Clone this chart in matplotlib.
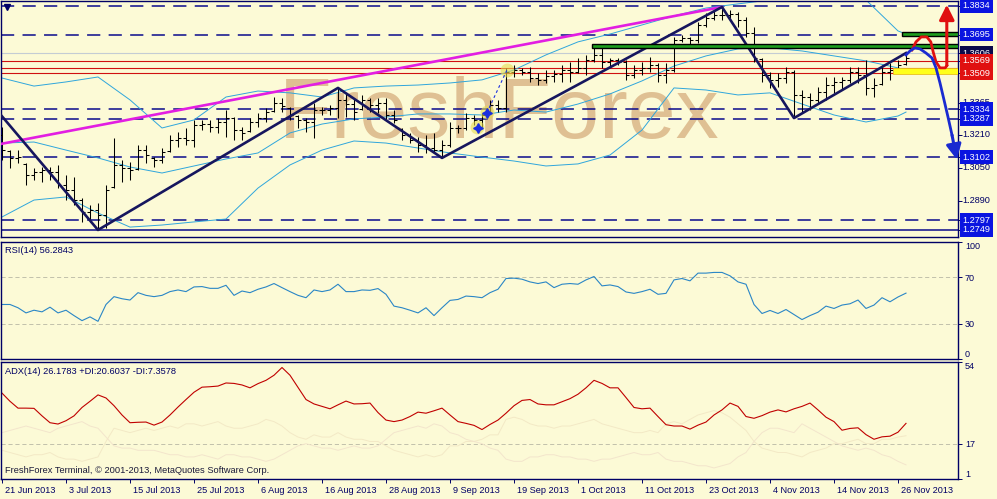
import matplotlib
matplotlib.use("Agg")
import matplotlib.pyplot as plt
import numpy as np
from matplotlib.patches import Rectangle
from matplotlib.transforms import ScaledTranslation, blended_transform_factory

plt.rcParams["font.family"] = ["Liberation Sans", "DejaVu Sans"]
plt.rcParams["lines.scale_dashes"] = False

BG = "#fcfad6"
NAVY = "#000066"

# daily EURUSD bars, 21 Jun 2013 .. 27 Nov 2013 (one per business day)
bar_open = [
    1.3209, 1.3130, 1.3098, 1.3068, 1.3015, 1.3030, 1.3040, 1.3030, 1.2967, 1.2943,
    1.2894, 1.2836, 1.2846, 1.2821, 1.2955, 1.3064, 1.3049, 1.3045, 1.3136, 1.3100,
    1.3088, 1.3130, 1.3185, 1.3194, 1.3185, 1.3258, 1.3262, 1.3248, 1.3272, 1.3291,
    1.3233, 1.3228, 1.3272, 1.3291, 1.3325, 1.3364, 1.3340, 1.3300, 1.3282, 1.3272,
    1.3330, 1.3330, 1.3340, 1.3379, 1.3359, 1.3335, 1.3379, 1.3354, 1.3364, 1.3306,
    1.3238, 1.3209, 1.3185, 1.3161, 1.3146, 1.3136, 1.3161, 1.3243, 1.3243, 1.3291,
    1.3282, 1.3320, 1.3354, 1.3340, 1.3514, 1.3524, 1.3514, 1.3485, 1.3475, 1.3495,
    1.3505, 1.3524, 1.3514, 1.3534, 1.3572, 1.3597, 1.3563, 1.3572, 1.3563, 1.3500,
    1.3524, 1.3534, 1.3548, 1.3500, 1.3524, 1.3669, 1.3679, 1.3669, 1.3742, 1.3776,
    1.3790, 1.3790, 1.3795, 1.3766, 1.3703, 1.3577, 1.3500, 1.3475, 1.3485, 1.3514,
    1.3403, 1.3393, 1.3379, 1.3417, 1.3451, 1.3466, 1.3475, 1.3514, 1.3500, 1.3437,
    1.3455, 1.3514, 1.3524, 1.3552,
]
bar_high = [
    1.3248, 1.3136, 1.3136, 1.3073, 1.3049, 1.3054, 1.3054, 1.3064, 1.3015, 1.3006,
    1.2904, 1.2870, 1.2880, 1.2967, 1.3194, 1.3088, 1.3078, 1.3161, 1.3161, 1.3102,
    1.3146, 1.3209, 1.3224, 1.3243, 1.3282, 1.3282, 1.3282, 1.3291, 1.3330, 1.3296,
    1.3248, 1.3291, 1.3316, 1.3340, 1.3393, 1.3388, 1.3345, 1.3306, 1.3291, 1.3364,
    1.3345, 1.3354, 1.3437, 1.3413, 1.3388, 1.3403, 1.3388, 1.3388, 1.3388, 1.3330,
    1.3243, 1.3219, 1.3199, 1.3209, 1.3219, 1.3185, 1.3272, 1.3258, 1.3316, 1.3306,
    1.3316, 1.3379, 1.3379, 1.3534, 1.3548, 1.3534, 1.3538, 1.3509, 1.3524, 1.3524,
    1.3548, 1.3563, 1.3582, 1.3597, 1.3635, 1.3631, 1.3582, 1.3582, 1.3572, 1.3548,
    1.3563, 1.3587, 1.3558, 1.3558, 1.3684, 1.3693, 1.3684, 1.3756, 1.3800, 1.3815,
    1.3829, 1.3815, 1.3805, 1.3781, 1.3732, 1.3582, 1.3514, 1.3509, 1.3538, 1.3524,
    1.3427, 1.3413, 1.3442, 1.3490, 1.3490, 1.3490, 1.3538, 1.3538, 1.3572, 1.3485,
    1.3548, 1.3558, 1.3572, 1.3606,
]
bar_low = [
    1.3088, 1.3049, 1.3073, 1.2967, 1.2991, 1.2981, 1.2991, 1.2952, 1.2894, 1.2870,
    1.2788, 1.2788, 1.2754, 1.2759, 1.2952, 1.2981, 1.2991, 1.3040, 1.3073, 1.3054,
    1.3073, 1.3127, 1.3151, 1.3161, 1.3151, 1.3233, 1.3224, 1.3219, 1.3199, 1.3185,
    1.3185, 1.3224, 1.3248, 1.3272, 1.3320, 1.3320, 1.3282, 1.3243, 1.3224, 1.3194,
    1.3306, 1.3306, 1.3291, 1.3296, 1.3282, 1.3330, 1.3320, 1.3316, 1.3282, 1.3267,
    1.3185, 1.3170, 1.3127, 1.3122, 1.3122, 1.3098, 1.3151, 1.3219, 1.3233, 1.3258,
    1.3248, 1.3316, 1.3320, 1.3320, 1.3490, 1.3500, 1.3466, 1.3451, 1.3461, 1.3466,
    1.3466, 1.3466, 1.3509, 1.3500, 1.3563, 1.3534, 1.3538, 1.3548, 1.3475, 1.3485,
    1.3500, 1.3514, 1.3466, 1.3461, 1.3514, 1.3660, 1.3645, 1.3655, 1.3732, 1.3766,
    1.3766, 1.3776, 1.3732, 1.3684, 1.3563, 1.3466, 1.3437, 1.3442, 1.3461, 1.3291,
    1.3320, 1.3330, 1.3364, 1.3379, 1.3413, 1.3427, 1.3461, 1.3461, 1.3403, 1.3393,
    1.3451, 1.3475, 1.3509, 1.3548,
]
bar_close = [
    1.3136, 1.3098, 1.3102, 1.3015, 1.3030, 1.3040, 1.3030, 1.2967, 1.2943, 1.2894,
    1.2836, 1.2846, 1.2821, 1.2943, 1.3064, 1.3049, 1.3040, 1.3136, 1.3112, 1.3088,
    1.3127, 1.3185, 1.3194, 1.3185, 1.3258, 1.3262, 1.3248, 1.3272, 1.3291, 1.3233,
    1.3219, 1.3272, 1.3291, 1.3320, 1.3364, 1.3349, 1.3306, 1.3282, 1.3272, 1.3330,
    1.3330, 1.3340, 1.3379, 1.3359, 1.3320, 1.3379, 1.3354, 1.3364, 1.3306, 1.3282,
    1.3209, 1.3185, 1.3161, 1.3146, 1.3136, 1.3161, 1.3243, 1.3243, 1.3291, 1.3282,
    1.3306, 1.3354, 1.3340, 1.3514, 1.3524, 1.3514, 1.3485, 1.3475, 1.3495, 1.3505,
    1.3524, 1.3514, 1.3534, 1.3572, 1.3597, 1.3563, 1.3572, 1.3563, 1.3500, 1.3524,
    1.3534, 1.3548, 1.3500, 1.3524, 1.3669, 1.3679, 1.3669, 1.3742, 1.3776, 1.3790,
    1.3790, 1.3795, 1.3766, 1.3703, 1.3582, 1.3500, 1.3475, 1.3485, 1.3514, 1.3403,
    1.3393, 1.3379, 1.3417, 1.3451, 1.3466, 1.3475, 1.3514, 1.3500, 1.3437, 1.3451,
    1.3514, 1.3524, 1.3548, 1.3582,
]

# Bollinger bands read every 4th bar
bb_idx = [0, 4, 8, 12, 16, 20, 24, 28, 32, 36, 40, 44, 48, 52, 56, 60, 64, 68, 72, 76,
          80, 84, 88, 92, 96, 100, 104, 108, 112, 113]
bb_upper = [1.3485, 1.3446, 1.3466, 1.3490, 1.3379, 1.3243, 1.3282, 1.3393, 1.3422, 1.3413,
            1.3393, 1.3437, 1.3446, 1.3451, 1.3461, 1.3476, 1.3524, 1.3597, 1.3660, 1.3698,
            1.3742, 1.3786, 1.3824, 1.3844, 1.3863, 1.3878, 1.3878, 1.3863, 1.3713, 1.3698]
bb_middle = [1.3170, 1.3175, 1.3136, 1.3098, 1.3054, 1.3025, 1.3059, 1.3093, 1.3122, 1.3219,
             1.3262, 1.3287, 1.3296, 1.3311, 1.3311, 1.3306, 1.3330, 1.3320, 1.3359, 1.3408,
             1.3471, 1.3543, 1.3592, 1.3626, 1.3631, 1.3616, 1.3592, 1.3568, 1.3534, 1.3524]
bb_lower = [1.2812, 1.2894, 1.2909, 1.2831, 1.2763, 1.2773, 1.2788, 1.2802, 1.2952, 1.3064,
            1.3136, 1.3180, 1.3170, 1.3146, 1.3122, 1.3102, 1.3083, 1.3059, 1.3069, 1.3112,
            1.3233, 1.3437, 1.3427, 1.3403, 1.3413, 1.3359, 1.3306, 1.3272, 1.3301, 1.3320]

zigzag_idx = [-0.25, 12, 42, 55, 90, 99, 113]
zigzag_price = [1.3311, 1.2749, 1.3437, 1.3098, 1.3829, 1.3291, 1.3606]
trend_idx = [-0.25, 90]
trend_price = [1.3165, 1.3829]

rsi = [
    46.6, 46.6, 43.8, 39.4, 41.7, 40.3, 44.3, 39.4, 41.7, 37.1,
    32.8, 36.0, 32.2, 46.6, 53.3, 51.5, 50.4, 56.7, 54.4, 53.3,
    54.4, 57.6, 59.0, 57.6, 61.6, 61.9, 60.4, 60.4, 63.0, 54.4,
    58.1, 56.7, 59.6, 61.6, 64.5, 61.0, 57.6, 54.4, 52.4, 59.0,
    57.6, 59.0, 63.9, 57.6, 57.6, 59.0, 58.7, 60.2, 55.3, 45.2,
    43.8, 41.7, 39.4, 43.8, 37.1, 43.8, 50.1, 50.9, 53.8, 53.3,
    52.4, 56.7, 59.6, 68.8, 69.1, 68.2, 65.9, 64.5, 65.9, 61.0,
    63.9, 64.5, 63.9, 67.6, 70.5, 62.5, 63.3, 61.9, 57.3, 56.1,
    57.6, 59.6, 55.3, 56.1, 67.6, 68.8, 66.8, 73.4, 73.4, 74.0,
    74.0, 71.1, 65.9, 63.9, 46.6, 38.9, 41.5, 38.9, 42.3, 38.0,
    33.7, 37.1, 40.0, 45.2, 43.2, 46.1, 47.2, 50.4, 43.2, 46.1,
    52.4, 48.9, 53.0, 56.3,
]
adx = [
    39.9, 36.2, 33.1, 33.1, 33.0, 29.6, 26.5, 25.9, 27.4, 29.6,
    33.4, 36.2, 39.1, 37.7, 34.2, 30.0, 26.5, 26.7, 26.8, 25.4,
    26.8, 30.0, 33.6, 37.0, 40.3, 42.6, 42.8, 43.1, 44.5, 44.3,
    43.6, 42.3, 44.2, 45.7, 48.0, 51.5, 48.0, 42.5, 37.0, 35.0,
    33.9, 32.8, 34.6, 36.3, 35.0, 35.1, 35.4, 31.1, 27.7, 27.0,
    27.7, 29.3, 31.3, 30.8, 31.9, 33.1, 30.0, 27.0, 26.2, 25.3,
    23.4, 25.7, 27.7, 30.8, 34.2, 36.6, 37.0, 35.0, 34.6, 34.6,
    36.0, 37.4, 39.4, 42.3, 45.7, 44.3, 42.3, 42.3, 37.9, 33.4,
    32.8, 33.1, 29.3, 25.6, 25.0, 25.0, 23.6, 25.4, 26.8, 30.0,
    32.3, 35.4, 33.9, 29.3, 28.5, 29.7, 31.3, 32.3, 31.4, 32.8,
    33.9, 35.4, 32.3, 29.0, 27.0, 23.1, 23.9, 24.2, 21.1, 19.0,
    20.1, 20.4, 22.2, 26.2,
]
plus_di = [
    14, 13, 12, 11, 12, 12, 13, 11, 10, 10, 9, 10, 11,
    18, 24, 23, 22, 23, 24, 23, 24, 25, 24, 26, 26, 25, 26, 27, 25, 24, 24, 25, 26, 28, 27, 25,
    22, 20, 19, 21, 20, 20, 22, 20, 19, 19, 18, 18, 16, 14, 13, 12, 11, 12, 11, 12,
    16, 16, 18, 18, 19, 21, 21, 28, 29, 28, 26, 25, 25, 24, 25, 25, 26, 27, 28, 26, 25, 24,
    23, 22, 22, 23, 22, 26, 27, 26, 28, 30, 31, 32, 31,
    29, 26, 23, 18, 15, 14, 13, 13, 12, 11,
    13, 14, 15, 17, 17, 18, 19, 17, 17, 19, 19, 20, 20.6,
]
minus_di = [
    22, 23, 24, 25, 24, 23, 22, 24, 25, 26, 27, 25, 24,
    20, 16, 15, 15, 14, 14, 14, 13, 12, 12, 11, 11, 12, 11, 10, 12, 12, 11, 11, 10, 9, 10, 12,
    14, 16, 17, 16, 15, 15, 14, 15, 16, 15, 15, 16, 19, 22, 23, 24, 25, 24, 26, 25,
    22, 21, 19, 18, 17, 15, 14, 10, 9, 9, 11, 11, 12, 12, 11, 11, 10, 10, 9, 10, 10, 11,
    12, 13, 12, 12, 13, 10, 9, 9, 8, 7, 7, 6, 7,
    8, 11, 13, 18, 22, 24, 24, 23, 22, 26,
    24, 22, 20, 18, 16, 15, 14, 15, 14, 12, 11, 9, 7.4,
]

date_ticks = [0, 8, 16, 24, 32, 40, 48, 56, 64, 72, 80, 88, 96, 104, 112]
date_labels = ["21 Jun 2013", "3 Jul 2013", "15 Jul 2013", "25 Jul 2013", "6 Aug 2013",
               "16 Aug 2013", "28 Aug 2013", "9 Sep 2013", "19 Sep 2013", "1 Oct 2013",
               "11 Oct 2013", "23 Oct 2013", "4 Nov 2013", "14 Nov 2013", "26 Nov 2013"]

dashed_levels = [1.3834, 1.3695, 1.3334, 1.3287, 1.3102, 1.2797]
red_levels = [1.3569, 1.3535, 1.3509]
price_levels = [1.3365, 1.3210, 1.3050, 1.2890, 1.3834, 1.3695, 1.3334, 1.3287, 1.3102,
                1.2797, 1.2749, 1.3606, 1.3569, 1.3509]
price_styles = ["plain", "plain", "plain", "plain", "blue", "blue", "blue", "blue", "blue",
                "blue", "blue", "navy", "red", "red"]

# resistance / support zones drawn on the chart
green_start = [73.75, 112.5]
green_low = [1.3630, 1.3688]
green_high = [1.3651, 1.3707]
yellow_start = [111.4]
yellow_low = [1.3505]
yellow_high = [1.3533]

# hand-drawn scenarios at the right edge
up_path_x = [113.75, 114.25, 114.9, 115.6, 116.1, 116.4, 116.75, 117.25, 117.9, 118.1]
up_path_y = [1.3621, 1.3660, 1.3684, 1.3684, 1.3660, 1.3611, 1.3563, 1.3534, 1.3534, 1.3545]
up_arrow_tip = (118.1, 1.3840)
down_path_x = [113, 113.5, 114.1, 114.75, 115.5, 116.25, 116.75, 117.25, 117.75, 118.25, 118.75]
down_path_y = [1.3597, 1.3616, 1.3631, 1.3626, 1.3606, 1.3582, 1.3534, 1.3461, 1.3379, 1.3296, 1.3209]
down_arrow_tip = (119.35, 1.3090)

glow_x = [59.4, 60.6, 63.1]
glow_y = [1.3250, 1.3318, 1.3522]
star_x = [59.5, 60.6]
star_y = [1.3243, 1.3316]


def axes_box(fig, left, top, right, bottom):
    w, h = 997, 499
    return fig.add_axes([left / w, 1 - bottom / h, (right - left) / w, (bottom - top) / h])


def style_panel(ax):
    ax.set_facecolor(BG)
    for s in ax.spines.values():
        s.set_color(NAVY)
        s.set_linewidth(1.0)
    ax.yaxis.tick_right()
    ax.tick_params(axis="y", direction="out", length=3, width=0.7, color=NAVY,
                   labelcolor=NAVY, labelsize=6.5, pad=2)


def main() -> int:
    idx = np.arange(len(bar_close))
    fig = plt.figure(figsize=(9.97, 4.99), dpi=100, facecolor=BG)
    ax = axes_box(fig, 1, 1, 958, 237)
    ax_rsi = axes_box(fig, 1, 242, 958, 359)
    ax_adx = axes_box(fig, 1, 362, 958, 479)
    for a in (ax, ax_rsi, ax_adx):
        style_panel(a)
        a.set_xlim(-0.125, 119.5)

    # ---- price panel ----
    ax.set_ylim(1.2715, 1.3858)
    ax.text(0.521, 0.419, "FreshForex", transform=ax.transAxes, ha="center", va="baseline",
            fontsize=62, color="#d8b282", alpha=0.8, zorder=0.5)
    for lvl in dashed_levels:
        ax.axhline(lvl, color="#0a0a8c", lw=1.1, dashes=(9.5, 6), zorder=1)
    ax.axhline(1.2749, color="#0a0a8c", lw=1.1, zorder=1)
    ax.axhline(1.3606, color="#c4ccd4", lw=0.8, zorder=1)
    for lvl in red_levels:
        ax.axhline(lvl, color="#d01010", lw=0.8, zorder=1)

    for band in (bb_upper, bb_middle, bb_lower):
        ax.plot(bb_idx, band, color="#2fa6dc", lw=0.7, zorder=2)

    ax.vlines(idx, bar_low, bar_high, color="black", lw=0.75, zorder=3)
    ax.hlines(bar_open, idx - 0.4, idx, color="black", lw=0.75, zorder=3)
    ax.hlines(bar_close, idx, idx + 0.4, color="black", lw=0.75, zorder=3)

    ax.plot(trend_idx, trend_price, color="#e21ee2", lw=1.9, zorder=4)
    ax.plot(zigzag_idx, zigzag_price, color="#16165e", lw=1.9, zorder=4)

    for x0, lo, hi in zip(green_start, green_low, green_high):
        ax.add_patch(Rectangle((x0, lo), 130 - x0, hi - lo, facecolor="#1e9e1e",
                               edgecolor="black", lw=1.0, zorder=5))
    for x0, lo, hi in zip(yellow_start, yellow_low, yellow_high):
        ax.add_patch(Rectangle((x0, lo), 130 - x0, hi - lo, facecolor="#ffff1a",
                               edgecolor="#e8c020", lw=0.6, zorder=5))

    ax.plot(glow_x, glow_y, "o", ms=10, color="#e6dc50", alpha=0.6, mec="none", zorder=5)
    ax.plot(star_x, star_y, marker=(4, 1, 0), ls="none", ms=7, color="#1a2ee0", zorder=6)
    ax.plot([star_x[1], glow_x[2]], [star_y[1], glow_y[2]], color="#1a2ee0", lw=0.8,
            dashes=(2, 2), zorder=6)
    ax.plot([0.6], [1.3829], marker="v", ms=4, color=NAVY, zorder=6)

    ax.plot(up_path_x, up_path_y, color="#e01010", lw=2.0, zorder=7)
    ax.annotate("", xy=up_arrow_tip, xytext=(up_path_x[-1], up_path_y[-1]),
                arrowprops=dict(arrowstyle="-|>,head_length=0.9,head_width=0.45",
                                color="#e01010", lw=2.2, shrinkA=0, shrinkB=0), zorder=7)
    ax.plot(down_path_x, down_path_y, color="#1a2ad0", lw=2.0, zorder=7)
    ax.annotate("", xy=down_arrow_tip, xytext=(down_path_x[-1], down_path_y[-1]),
                arrowprops=dict(arrowstyle="-|>,head_length=0.9,head_width=0.45",
                                color="#1a2ad0", lw=2.2, shrinkA=0, shrinkB=0), zorder=7)

    ax.set_yticks(price_levels)
    ax.set_yticklabels([])
    trans = blended_transform_factory(ax.transAxes, ax.transData)
    box_colors = {"blue": "#0a14e0", "navy": "#0a0a4a", "red": "#e01010"}
    for z, (lvl, sty) in enumerate(zip(price_levels, price_styles)):
        if sty == "plain":
            ax.text(1.005, lvl, f"{lvl:.4f}", transform=trans, ha="left", va="center",
                    fontsize=6.6, color=NAVY, clip_on=False, zorder=10 + z)
        else:
            ax.text(1.005, lvl, f"{lvl:.4f}", transform=trans, ha="left", va="center",
                    fontsize=6.6, color="white", clip_on=False, zorder=10 + z,
                    bbox=dict(boxstyle="square,pad=0.25", fc=box_colors[sty], ec="none"))
    ax.tick_params(axis="x", bottom=False, labelbottom=False)

    # ---- RSI panel ----
    ax_rsi.set_ylim(0, 100)
    for lvl in (70, 30):
        ax_rsi.axhline(lvl, color="#b8b8a4", lw=0.6, dashes=(3, 2))
    ax_rsi.plot(idx, rsi, color="#2a86c6", lw=0.8)
    ax_rsi.set_yticks([100, 70, 30, 0])
    labs = ax_rsi.set_yticklabels(["100", "70", "30", "0"])
    labs[0].set_va("top")
    labs[3].set_va("bottom")
    ax_rsi.text(0.004, 0.965, "RSI(14) 56.2843", transform=ax_rsi.transAxes, ha="left",
                va="top", fontsize=6.7, color=NAVY)
    ax_rsi.tick_params(axis="x", bottom=False, labelbottom=False)

    # ---- ADX panel ----
    ax_adx.set_ylim(1, 54)
    ax_adx.axhline(17, color="#b8b8a4", lw=0.6, dashes=(3, 2))
    ax_adx.plot(idx, plus_di, color="#f3e9c6", lw=0.7)
    ax_adx.plot(idx, minus_di, color="#f3e5cc", lw=0.7)
    ax_adx.plot(idx, adx, color="#c00000", lw=0.8)
    ax_adx.set_yticks([54, 17, 1])
    labs = ax_adx.set_yticklabels(["54", "17", "1"])
    labs[0].set_va("top")
    labs[2].set_va("bottom")
    ax_adx.text(0.004, 0.955, "ADX(14) 26.1783 +DI:20.6037 -DI:7.3578",
                transform=ax_adx.transAxes, ha="left", va="top", fontsize=6.7, color=NAVY)
    ax_adx.text(0.004, 0.03, "FreshForex Terminal, \u00a9 2001-2013, MetaQuotes Software Corp.",
                transform=ax_adx.transAxes, ha="left", va="bottom", fontsize=6.7, color="#1a1a3a")
    ax_adx.set_xticks(date_ticks)
    ax_adx.set_xticklabels(date_labels)
    ax_adx.tick_params(axis="x", direction="out", length=3, width=0.7, color=NAVY,
                       labelcolor=NAVY, labelsize=6.6, pad=2)
    shift = ScaledTranslation(3 / 100, 0, fig.dpi_scale_trans)
    for lab in ax_adx.get_xticklabels():
        lab.set_ha("left")
        lab.set_transform(lab.get_transform() + shift)

    fig.savefig("out.png", dpi=100, facecolor=BG)
    plt.close(fig)
    return 0


if __name__ == "__main__":
    raise SystemExit(main())
